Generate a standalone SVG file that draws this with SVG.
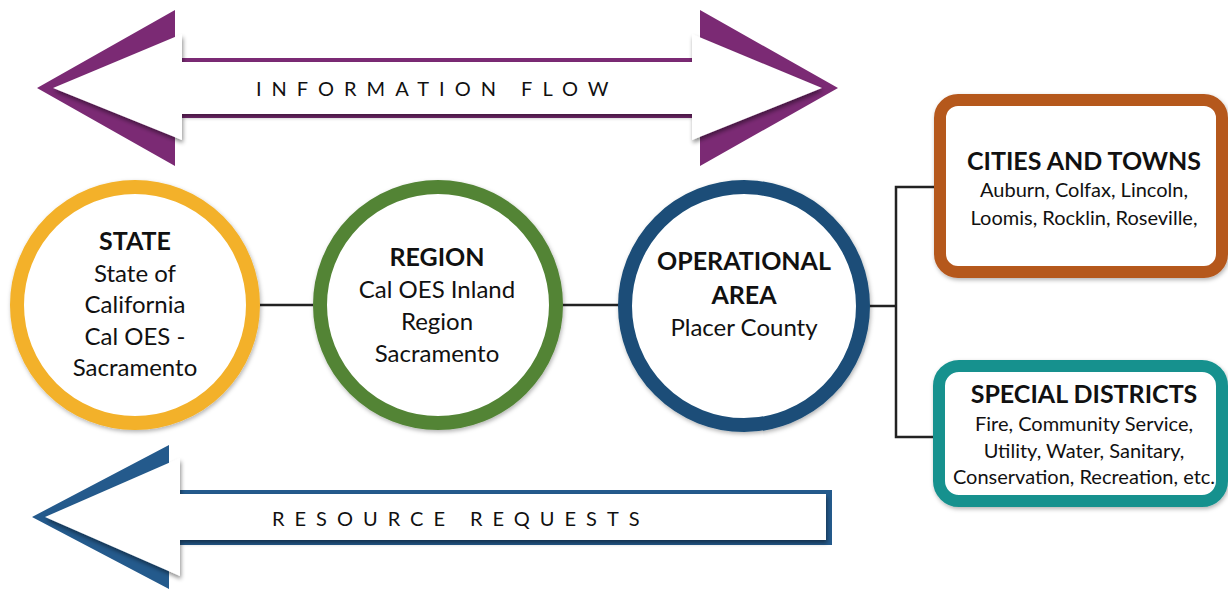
<svg xmlns="http://www.w3.org/2000/svg" width="1228" height="591" viewBox="0 0 1228 591">
  <style>
    .lbl { font-family: Lato, "Open Sans", "Liberation Sans", sans-serif; fill: #111; text-anchor: middle; }
    .title { font-weight: bold; font-size: 25px; }
    .body { font-size: 24px; }
    .boxtitle { font-weight: bold; font-size: 25px; }
    .boxbody { font-size: 20px; }
    .flow { font-family: Lato, "Open Sans", "Liberation Sans", sans-serif; font-size: 20px; fill: #111; letter-spacing: 10px; }
    .link { stroke: #222; stroke-width: 2.5; fill: none; }
    .ring { fill: #fff; stroke-width: 14; filter: url(#soft); }
    .box { fill: #fff; stroke-width: 12; filter: url(#soft); }
  </style>
  <defs>
    <filter id="soft" x="-10%" y="-10%" width="120%" height="120%">
      <feDropShadow dx="1" dy="2" stdDeviation="2" flood-color="#000" flood-opacity="0.3"/>
    </filter>
    <filter id="lift" x="-10%" y="-20%" width="120%" height="140%">
      <feDropShadow dx="1" dy="3" stdDeviation="2" flood-color="#000" flood-opacity="0.45"/>
    </filter>
  </defs>

  <rect width="1228" height="591" fill="#fff"/>

  <!-- Information flow double arrow -->
  <g id="information-flow">
    <polygon fill="#7B2A74" points="37,88 175,10 175,58 700,58 700,10 838,88 700,166 700,118 175,118 175,166"/>
    <polygon fill="#fff" filter="url(#lift)" points="53,88 182,34 182,62 692,62 692,34 822,88 692,140 692,114 182,114 182,140"/>
    <text class="flow" x="256" y="96">INFORMATION FLOW</text>
  </g>

  <!-- Resource requests arrow -->
  <g id="resource-requests">
    <polygon fill="#245A8C" points="32,517 169,445 169,490 832,490 832,545 169,545 169,589"/>
    <polygon fill="#fff" filter="url(#lift)" points="45,517 180,458 180,494 826,494 826,540 180,540 180,576"/>
    <text class="flow" x="272" y="526">RESOURCE REQUESTS</text>
  </g>

  <!-- Connectors -->
  <g id="connectors">
    <line class="link" x1="260" y1="305" x2="313" y2="305"/>
    <line class="link" x1="562" y1="305" x2="619" y2="305"/>
    <line class="link" x1="869" y1="306" x2="896" y2="306"/>
    <polyline class="link" points="935,187 896,187 896,437 935,437"/>
  </g>

  <!-- State -->
  <g id="state">
    <circle class="ring" cx="135" cy="305" r="118" stroke="#F3B12A"/>
    <text class="lbl title" x="135" y="250">STATE</text>
    <text class="lbl body" x="135" y="282">State of</text>
    <text class="lbl body" x="135" y="313">California</text>
    <text class="lbl body" x="135" y="345">Cal OES -</text>
    <text class="lbl body" x="135" y="376">Sacramento</text>
  </g>

  <!-- Region -->
  <g id="region">
    <circle class="ring" cx="438" cy="305" r="118" stroke="#538436"/>
    <text class="lbl title" x="437" y="266">REGION</text>
    <text class="lbl body" x="437" y="298">Cal OES Inland</text>
    <text class="lbl body" x="437" y="330">Region</text>
    <text class="lbl body" x="437" y="362">Sacramento</text>
  </g>

  <!-- Operational area -->
  <g id="operational-area">
    <circle class="ring" cx="744" cy="306" r="119" stroke="#1B4E78"/>
    <text class="lbl title" x="744" y="270">OPERATIONAL</text>
    <text class="lbl title" x="744" y="304">AREA</text>
    <text class="lbl body" x="744" y="336">Placer County</text>
  </g>

  <!-- Cities and towns -->
  <g id="cities-and-towns">
    <rect class="box" x="940" y="100" width="282" height="172" rx="18" stroke="#B5581F"/>
    <text class="lbl boxtitle" x="1084" y="170">CITIES AND TOWNS</text>
    <text class="lbl boxbody" x="1084" y="197">Auburn, Colfax, Lincoln,</text>
    <text class="lbl boxbody" x="1084" y="225">Loomis, Rocklin, Roseville,</text>
  </g>

  <!-- Special districts -->
  <g id="special-districts">
    <rect class="box" x="939" y="366" width="283" height="135" rx="20" stroke="#17918E"/>
    <text class="lbl boxtitle" x="1084" y="403">SPECIAL DISTRICTS</text>
    <text class="lbl boxbody" x="1084" y="431">Fire, Community Service,</text>
    <text class="lbl boxbody" x="1084" y="458">Utility, Water, Sanitary,</text>
    <text class="lbl boxbody" x="1084" y="484">Conservation, Recreation, etc.</text>
  </g>
</svg>
